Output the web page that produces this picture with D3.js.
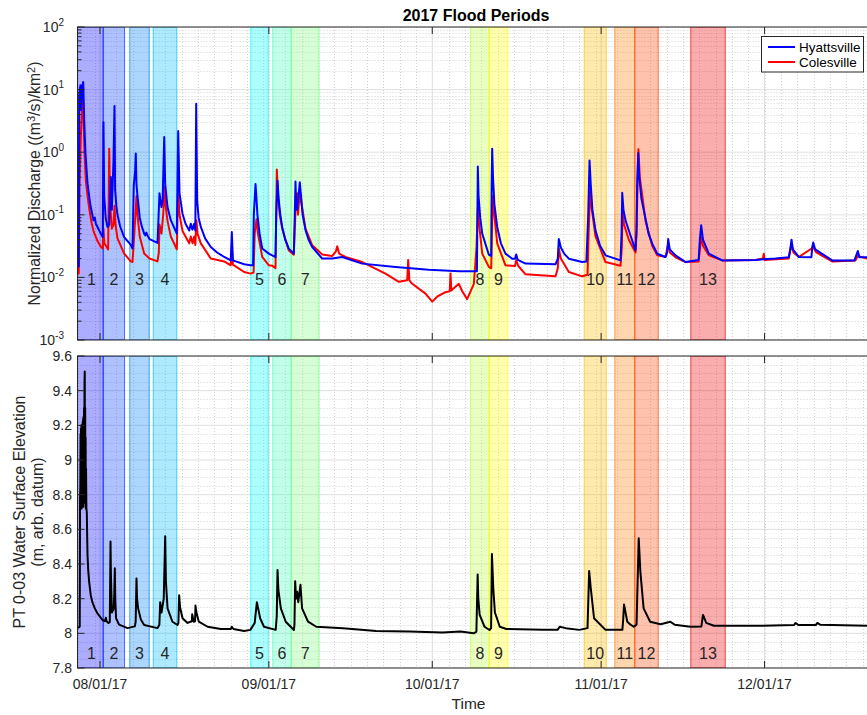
<!DOCTYPE html>
<html>
<head>
<meta charset="utf-8">
<script src="https://cdn.jsdelivr.net/npm/d3@7"></script>
<style>
  body { margin: 0; background: #fff; }
  svg { font-family: "Liberation Sans", Arial, Helvetica, sans-serif; }
</style>
</head>
<body>
<svg width="867" height="715"></svg>
<script>
// time is in days since 08/01/17 00:00
let hyattsville = [
  [-4.13,0.0147],[-3.9,0.015],[-3.82,8.1],[-3.6,11.7],[-3.47,4.7],[-3.3,11.0],[-3.08,13.2],[-2.9,3.2],
  [-2.66,0.95],[-2.45,0.5],[-2.29,0.32],[-2.0,0.2],[-1.8,0.15],[-1.5,0.11],[-1.19,0.082],[-0.95,0.09],[-0.77,0.072],[-0.46,0.064],[0.15,0.05],
  [0.51,0.044],[0.64,3.0],[0.77,0.2],[1.06,0.087],[1.38,0.064],[1.69,0.07],[1.98,0.4],[2.17,0.12],
  [2.48,0.74],[2.66,5.47],[2.78,0.25],[3.0,0.14],[3.21,0.1],[3.7,0.065],[4.44,0.044],[5.65,0.033],
  [5.97,0.029],[6.2,0.3],[6.45,0.5],[6.57,0.95],[6.7,0.3],[6.88,0.2],[7.3,0.09],[7.7,0.064],[8.11,0.05],[8.3,0.047],
  [8.5,0.052],[8.7,0.047],[9.09,0.041],[10.56,0.0355],
  [10.92,0.22],[11.29,0.133],[11.5,0.17],[11.79,1.75],[11.97,0.31],[12.39,0.133],[13.0,0.082],[14.1,0.05],
  [14.36,2.18],[14.6,0.22],[15.15,0.104],[15.7,0.072],[16.38,0.056],[16.67,0.072],[16.97,0.058],[17.29,0.072],[17.5,0.056],
  [17.66,5.96],[17.84,0.17],[18.1,0.09],[18.51,0.064],[19.3,0.042],[20.34,0.0306],[21.5,0.025],[22.8,0.0212],[24.01,0.0187],[24.2,0.053],[24.4,0.0187],
  [26.47,0.0162],[27.63,0.0156],
  [28.1,0.0156],[28.24,0.1],[28.55,0.31],[28.7,0.2],[28.9,0.1],[29.3,0.05],[29.78,0.029],[31.0,0.024],[32.22,0.021],
  [32.35,0.1],[32.59,0.35],[32.8,0.18],[33.1,0.1],[33.45,0.064],[34.0,0.04],[34.66,0.0288],[35.58,0.024],
  [35.76,0.1],[35.89,0.34],[36.05,0.12],[36.2,0.12],[36.45,0.2],[36.68,0.33],[36.9,0.2],[37.2,0.1],[37.73,0.057],
  [38.3,0.04],[38.96,0.0306],[40.79,0.02],[42.63,0.02],[44.46,0.0212],[48.14,0.0166],[54.25,0.0147],[60.36,0.0133],
  [66.0,0.0125],[69.2,0.0125],
  [69.36,0.59],[69.5,0.2],[69.8,0.09],[70.17,0.05],[71.38,0.023],[71.82,0.022],
  [71.9,0.3],[72.0,1.14],[72.15,0.4],[72.4,0.15],[72.92,0.064],[73.6,0.035],[74.44,0.024],[75.67,0.0199],[76.2,0.0199],[76.41,0.0233],
  [76.7,0.019],[78.12,0.0166],[83.62,0.0162],
  [84.05,0.02],[84.23,0.041],[84.6,0.03],[85.2,0.024],[86.07,0.0199],[88.52,0.0176],[89.3,0.018],
  [89.63,0.1],[89.87,0.74],[90.1,0.3],[90.4,0.12],[90.97,0.056],[91.8,0.032],[92.8,0.0225],[95.56,0.0187],
  [95.75,0.05],[95.87,0.225],[96.1,0.12],[96.5,0.08],[97.08,0.056],[98.31,0.027],
  [98.5,0.06],[98.62,0.3],[98.81,0.97],[99.0,0.4],[99.4,0.18],[100.15,0.087],[100.7,0.05],[101.38,0.0346],[102.3,0.0239],[103.82,0.0212],
  [104.13,0.025],[104.31,0.041],[104.6,0.028],[105.65,0.0225],[107.49,0.0176],[109.9,0.019],
  [110.12,0.04],[110.37,0.068],[110.7,0.04],[111.77,0.0239],[114.23,0.0187],[120.34,0.019],[121.86,0.0195],
  [124.0,0.02],[126.45,0.021],[126.77,0.03],[126.95,0.04],[127.2,0.028],[128.29,0.0212],[130.6,0.021],
  [130.75,0.03],[130.93,0.036],[131.3,0.028],[132.5,0.024],[134.42,0.0187],[138.5,0.0187],[139.12,0.0264],
  [139.4,0.021],[140.9,0.021]
];

let colesville = [
  [-4.13,0.0118],[-3.9,0.0115],[-3.75,0.3],[-3.5,2.0],[-3.3,5.0],[-3.15,9.8],[-3.0,3.0],[-2.85,1.0],
  [-2.6,0.35],[-2.29,0.2],[-2.0,0.13],[-1.8,0.1],[-1.5,0.072],[-1.19,0.055],[-0.46,0.038],[0.15,0.031],[0.51,0.029],
  [0.64,0.06],[0.8,0.035],[1.5,0.028],[1.69,1.14],[1.85,0.15],[2.17,0.06],[2.48,0.07],[2.66,0.14],
  [2.85,0.07],[3.21,0.042],[4.44,0.024],[5.65,0.018],
  [5.97,0.0176],[6.3,0.05],[6.7,0.2],[6.88,0.1],[7.3,0.045],[8.11,0.024],[9.09,0.02],[10.56,0.018],
  [10.8,0.025],[10.92,0.07],[11.29,0.05],[11.6,0.1],[11.85,0.28],[12.0,0.15],[12.39,0.08],[13.0,0.045],[14.1,0.028],
  [14.36,0.25],[14.6,0.1],[15.15,0.055],[16.38,0.035],[16.67,0.045],[17.0,0.035],[17.29,0.045],[17.5,0.033],
  [17.7,0.082],[17.9,0.05],[18.51,0.035],[20.34,0.02],[22.8,0.018],[24.0,0.0156],[24.2,0.031],[24.4,0.016],
  [26.47,0.0122],[27.63,0.0115],
  [28.2,0.012],[28.4,0.05],[28.73,0.085],[29.0,0.05],[29.78,0.0212],[31.0,0.0156],[31.61,0.0154],[32.22,0.014],
  [32.35,0.1],[32.46,0.53],[32.7,0.2],[33.0,0.1],[33.45,0.06],[34.66,0.027],[35.58,0.023],
  [35.76,0.06],[35.95,0.15],[36.2,0.22],[36.35,0.1],[36.5,0.15],[36.81,0.22],[37.0,0.15],[37.73,0.06],
  [38.96,0.0325],[40.79,0.0233],[42.63,0.022],[43.3,0.026],[43.55,0.0313],[43.9,0.024],[45.07,0.0212],
  [48.14,0.0176],[52.41,0.0115],[54.86,0.0085],[56.4,0.009],[56.58,0.019],[56.8,0.009],[57.32,0.0079],
  [59.76,0.0055],[60.99,0.0041],[62.0,0.005],[63.43,0.0058],[64.2,0.006],[64.35,0.0115],[64.5,0.0062],
  [65.87,0.0079],[66.5,0.006],[67.4,0.0045],[68.63,0.0079],
  [69.12,0.03],[69.36,0.126],[69.6,0.07],[70.17,0.024],[71.38,0.0147],[71.82,0.014],
  [71.95,0.05],[72.1,0.2],[72.3,0.12],[72.92,0.035],[74.44,0.0156],[76.2,0.0152],[76.41,0.0188],[76.8,0.0152],
  [78.12,0.0112],[83.62,0.0104],
  [84.05,0.014],[84.23,0.029],[84.6,0.02],[86.07,0.0122],[88.52,0.0104],[89.5,0.011],
  [89.7,0.05],[90.0,0.26],[90.3,0.12],[90.97,0.045],[92.8,0.0176],[95.56,0.0154],
  [95.8,0.03],[95.95,0.12],[96.2,0.07],[97.08,0.04],[98.31,0.025],
  [98.5,0.05],[98.7,0.4],[98.85,1.11],[99.1,0.4],[100.15,0.08],[101.38,0.032],[102.3,0.0225],[103.82,0.0212],
  [104.31,0.035],[104.6,0.025],[105.65,0.021],[107.49,0.0176],[109.9,0.018],
  [110.37,0.044],[110.7,0.032],[111.77,0.0225],[114.23,0.0187],[120.34,0.019],[121.7,0.02],[121.86,0.0239],
  [122.0,0.019],[126.45,0.02],[126.95,0.034],[127.3,0.025],[128.29,0.0212],[130.93,0.03],[131.5,0.025],
  [134.42,0.018],[138.7,0.0187],[139.12,0.022],[140.9,0.02]
];

let elevation = [
  [-4.13,8.033],[-3.82,8.035],[-3.72,8.04],[-3.66,8.78],[-3.61,8.85],[-3.57,9.15],[-3.53,8.75],[-3.49,9.18],
  [-3.45,8.8],[-3.41,9.2],[-3.37,8.72],[-3.33,9.12],[-3.29,8.76],[-3.25,9.2],[-3.21,8.74],[-3.17,9.22],
  [-3.13,8.8],[-3.09,9.24],[-3.05,8.73],[-3.01,9.25],[-2.97,8.9],[-2.93,9.3],[-2.89,8.85],[-2.84,9.45],
  [-2.8,9.51],[-2.76,8.9],[-2.72,9.3],[-2.68,8.75],[-2.64,9.13],[-2.6,8.72],[-2.56,8.95],[-2.5,8.72],
  [-2.42,8.7],[-2.35,8.55],[-2.29,8.45],[-2.15,8.36],[-2.0,8.3],[-1.7,8.22],
  [-1.4,8.18],[-0.9,8.14],[-0.46,8.115],[0.46,8.077],[0.9,8.07],[1.07,8.09],[1.2,8.07],[1.56,8.06],[1.8,8.065],
  [1.93,8.53],[2.0,8.35],[2.18,8.12],[2.5,8.14],[2.6,8.2],[2.72,8.375],[2.8,8.2],[2.95,8.087],[3.5,8.05],
  [5.05,8.03],[6.4,8.04],[6.55,8.067],[6.7,8.317],[6.8,8.2],[7.0,8.144],[7.5,8.08],[8.1,8.048],[10.56,8.03],
  [10.9,8.05],[11.05,8.18],[11.3,8.12],[11.7,8.2],[11.97,8.56],[12.1,8.3],[12.4,8.144],[13.3,8.067],
  [14.23,8.048],[14.4,8.06],[14.53,8.22],[14.7,8.15],[15.15,8.087],[16.07,8.06],[16.85,8.07],[16.93,8.11],
  [17.2,8.067],[17.45,8.07],[17.53,8.16],[17.7,8.12],[18.14,8.067],[19.74,8.038],[22.2,8.025],[24.0,8.025],
  [24.2,8.038],[24.5,8.025],[26.47,8.013],[27.6,8.02],[28.4,8.06],[28.8,8.18],[29.4,8.087],[30.1,8.038],
  [32.26,8.02],[32.45,8.1],[32.59,8.365],[32.75,8.25],[33.2,8.144],[34.1,8.067],[35.6,8.019],[35.7,8.05],
  [35.83,8.3],[36.0,8.2],[36.2,8.24],[36.4,8.18],[36.8,8.28],[37.1,8.144],[38.2,8.067],[39.7,8.038],
  [44.6,8.03],[50.7,8.013],[56.8,8.01],[62.9,8.005],[66.18,8.01],[68.6,8.0],[69.1,8.01],
  [69.33,8.34],[69.45,8.2],[69.7,8.106],[70.6,8.038],[71.5,8.019],[71.8,8.03],[71.95,8.458],[72.2,8.26],
  [72.5,8.12],[73.4,8.038],[74.6,8.025],[81.3,8.02],[84.0,8.02],[84.4,8.038],[85.5,8.03],[88.0,8.02],
  [89.5,8.03],[89.8,8.36],[90.1,8.26],[90.7,8.087],[92.8,8.02],[95.9,8.02],[96.05,8.08],[96.2,8.167],
  [96.8,8.067],[97.4,8.05],[98.0,8.038],[98.5,8.05],[98.9,8.548],[99.2,8.355],[99.8,8.144],[101.0,8.067],
  [102.9,8.052],[104.7,8.067],[105.5,8.05],[108.4,8.038],[110.4,8.04],[110.7,8.106],[111.3,8.06],
  [112.7,8.044],[121.2,8.044],[127.4,8.048],[127.7,8.06],[128.2,8.048],[131.4,8.048],[131.7,8.06],
  [132.2,8.05],[140.9,8.044]
];

// flood periods
let floodStart = [-4.13, 0.59, 5.47, 9.77, 27.68, 31.72, 35.10, 68.02, 71.45, 88.89, 94.51, 98.18, 108.46];
let floodEnd   = [0.59, 4.50, 9.03, 14.10, 30.88, 35.10, 40.24, 71.45, 74.87, 92.93, 98.18, 102.48, 114.78];
let floodColors = ["#0000ff","#0040ff","#0080ff","#00bfff","#00ffff","#40ffbf","#80ff80",
                   "#bfff40","#ffff00","#ffbf00","#ff8000","#ff4000","#ee0000"];
let monthTicks = ["2017-08-01","2017-09-01","2017-10-01","2017-11-01","2017-12-01"];
let elevTicks = [7.8, 8, 8.2, 8.4, 8.6, 8.8, 9, 9.2, 9.4, 9.6];
let qTicks = [-3, -2, -1, 0, 1, 2];

let width = 867, height = 715;
let left = 77.5, right = 867.5;
let top1 = 27, bot1 = 340, top2 = 356, bot2 = 668;
let axisColor = "#262626";

let svg = d3.select("svg");
let t0 = new Date(2017, 7, 1);
let toDate = d => new Date(t0.getTime() + d * 864e5);

let x = d3.scaleTime().domain([toDate(-4.13), toDate(140.9)]).range([left, right]);
let yQ = d3.scaleLog().domain([1e-3, 1e2]).range([bot1, top1]);
let yZ = d3.scaleLinear().domain([7.8, 9.6]).range([bot2, top2]);

let defs = svg.append("defs");
defs.append("clipPath").attr("id", "clip1").append("rect")
  .attr("x", left).attr("y", top1).attr("width", right - left).attr("height", bot1 - top1);
defs.append("clipPath").attr("id", "clip2").append("rect")
  .attr("x", left).attr("y", top2).attr("width", right - left).attr("height", bot2 - top2);

let months = monthTicks.map(s => d3.timeParse("%Y-%m-%d")(s));
let minorDays = d3.timeDay.every(3).range(toDate(-4.13), toDate(141));

function drawPanel(clipId, top, bot, yScale, majorY, minorY) {
  let g = svg.append("g").attr("clip-path", "url(#" + clipId + ")");
  // minor grid
  g.selectAll(".mx").data(minorDays).enter().append("line")
    .attr("x1", d => Math.round(x(d)) + 0.5).attr("x2", d => Math.round(x(d)) + 0.5)
    .attr("y1", top).attr("y2", bot)
    .attr("stroke", "#c8c8c8").attr("stroke-width", 0.8).attr("stroke-dasharray", "1,2");
  g.selectAll(".my").data(minorY).enter().append("line")
    .attr("x1", left).attr("x2", right)
    .attr("y1", d => Math.round(yScale(d)) + 0.5).attr("y2", d => Math.round(yScale(d)) + 0.5)
    .attr("stroke", "#c8c8c8").attr("stroke-width", 0.8).attr("stroke-dasharray", "1,2");
  // major grid
  g.selectAll(".gx").data(months).enter().append("line")
    .attr("x1", d => x(d)).attr("x2", d => x(d))
    .attr("y1", top).attr("y2", bot)
    .attr("stroke", "#dfdfdf").attr("stroke-width", 1);
  g.selectAll(".gy").data(majorY).enter().append("line")
    .attr("x1", left).attr("x2", right)
    .attr("y1", d => yScale(d)).attr("y2", d => yScale(d))
    .attr("stroke", "#dfdfdf").attr("stroke-width", 1);
  // flood bands
  floodStart.forEach((s, i) => {
    g.append("rect")
      .attr("x", x(toDate(s))).attr("y", top)
      .attr("width", x(toDate(floodEnd[i])) - x(toDate(s))).attr("height", bot - top)
      .attr("fill", floodColors[i]).attr("fill-opacity", 0.32)
      .attr("stroke", floodColors[i]).attr("stroke-opacity", 0.7).attr("stroke-width", 1);
  });
  return g;
}

let minorQ = [];
for (let e = -3; e < 2; e++) for (let m = 2; m <= 9; m++) minorQ.push(m * Math.pow(10, e));
let minorZ = d3.range(7.8, 9.6, 0.05).filter((v, i) => i % 4 != 0);

let g1 = drawPanel("clip1", top1, bot1, yQ, qTicks.map(e => Math.pow(10, e)), minorQ);
let g2 = drawPanel("clip2", top2, bot2, yZ, elevTicks, minorZ);

let lineQ = d3.line().x(d => x(toDate(d[0]))).y(d => yQ(d[1]));
g1.append("path").datum(colesville).attr("d", lineQ)
  .attr("fill", "none").attr("stroke", "#ff0000").attr("stroke-width", 2).attr("stroke-linejoin", "round");
g1.append("path").datum(hyattsville).attr("d", lineQ)
  .attr("fill", "none").attr("stroke", "#0000ff").attr("stroke-width", 2).attr("stroke-linejoin", "round");

let lineZ = d3.line().x(d => x(toDate(d[0]))).y(d => yZ(d[1]));
g2.append("path").datum(elevation).attr("d", lineZ)
  .attr("fill", "none").attr("stroke", "#000").attr("stroke-width", 2).attr("stroke-linejoin", "round");

// band numbers
[[g1, 285], [g2, 659]].forEach(([g, yb]) => {
  floodStart.forEach((s, i) => {
    g.append("text")
      .attr("x", (x(toDate(s)) + x(toDate(floodEnd[i]))) / 2 + (i == 0 ? 1 : 0))
      .attr("y", yb).attr("text-anchor", "middle")
      .attr("font-size", 16).attr("fill", axisColor)
      .text(i + 1);
  });
});

// axes boxes and ticks
function drawAxes(top, bot, yScale, majorY, minorY) {
  let a = svg.append("g");
  a.append("rect").attr("x", left).attr("y", top).attr("width", right - left).attr("height", bot - top)
    .attr("fill", "none").attr("stroke", axisColor).attr("stroke-width", 1);
  months.forEach(m => {
    let xx = x(m);
    a.append("line").attr("x1", xx).attr("x2", xx).attr("y1", bot).attr("y2", bot - 7).attr("stroke", axisColor);
    a.append("line").attr("x1", xx).attr("x2", xx).attr("y1", top).attr("y2", top + 7).attr("stroke", axisColor);
  });
  majorY.forEach(v => {
    a.append("line").attr("x1", left).attr("x2", left + 7).attr("y1", yScale(v)).attr("y2", yScale(v)).attr("stroke", axisColor);
  });
  minorY.forEach(v => {
    a.append("line").attr("x1", left).attr("x2", left + 4).attr("y1", yScale(v)).attr("y2", yScale(v)).attr("stroke", axisColor);
  });
  return a;
}

let a1 = drawAxes(top1, bot1, yQ, qTicks.map(e => Math.pow(10, e)), minorQ);
let a2 = drawAxes(top2, bot2, yZ, elevTicks, []);

// top y tick labels (10^n)
qTicks.forEach(e => {
  let t = a1.append("text").attr("x", 64).attr("y", yQ(Math.pow(10, e)) + 5)
    .attr("text-anchor", "end").attr("font-size", 14).attr("fill", axisColor);
  t.append("tspan").text("10");
  t.append("tspan").attr("dy", -6.5).attr("font-size", 10).text(e);
});

// bottom y tick labels
elevTicks.forEach(v => {
  a2.append("text").attr("x", 72).attr("y", yZ(v) + 5)
    .attr("text-anchor", "end").attr("font-size", 14).attr("fill", axisColor)
    .text(d3.format("~g")(v));
});

// x tick labels
months.forEach(m => {
  a2.append("text").attr("x", x(m)).attr("y", 688.5)
    .attr("text-anchor", "middle").attr("font-size", 14).attr("fill", axisColor)
    .text(d3.timeFormat("%m/%d/%y")(m));
});

a2.append("text").attr("x", (left + right) / 2 - 4).attr("y", 709)
  .attr("text-anchor", "middle").attr("font-size", 15.5).attr("fill", axisColor).text("Time");

// title
svg.append("text").attr("x", 476).attr("y", 20.5).attr("text-anchor", "middle")
  .attr("font-size", 16).attr("font-weight", "bold").attr("fill", "#000").text("2017 Flood Periods");

// y labels
let yl1 = svg.append("text").attr("transform", "translate(40," + ((top1 + bot1) / 2) + ") rotate(-90)")
  .attr("text-anchor", "middle").attr("font-size", 15.8).attr("fill", axisColor);
yl1.append("tspan").text("Normalized Discharge ((m");
yl1.append("tspan").attr("dy", -5.5).attr("font-size", 11).text("3");
yl1.append("tspan").attr("dy", 5.5).text("/s)/km");
yl1.append("tspan").attr("dy", -5.5).attr("font-size", 11).text("2");
yl1.append("tspan").attr("dy", 5.5).text(")");

svg.append("text").attr("transform", "translate(25," + ((top2 + bot2) / 2) + ") rotate(-90)")
  .attr("text-anchor", "middle").attr("font-size", 16).attr("fill", axisColor)
  .text("PT 0-03 Water Surface Elevation");
svg.append("text").attr("transform", "translate(42.5," + ((top2 + bot2) / 2) + ") rotate(-90)")
  .attr("text-anchor", "middle").attr("font-size", 16).attr("fill", axisColor)
  .text("(m, arb. datum)");

// legend
let legend = svg.append("g");
legend.append("rect").attr("x", 761.5).attr("y", 36.5).attr("width", 102).attr("height", 35.5)
  .attr("fill", "#fff").attr("stroke", axisColor).attr("stroke-width", 1);
[["Hyattsville", "#0000ff", 47], ["Colesville", "#ff0000", 62]].forEach(([name, c, yy]) => {
  legend.append("line").attr("x1", 768).attr("x2", 795).attr("y1", yy).attr("y2", yy)
    .attr("stroke", c).attr("stroke-width", 2);
  legend.append("text").attr("x", 799).attr("y", yy + 4.5).attr("font-size", 13.5).attr("fill", "#000").text(name);
});
</script>
</body>
</html>
